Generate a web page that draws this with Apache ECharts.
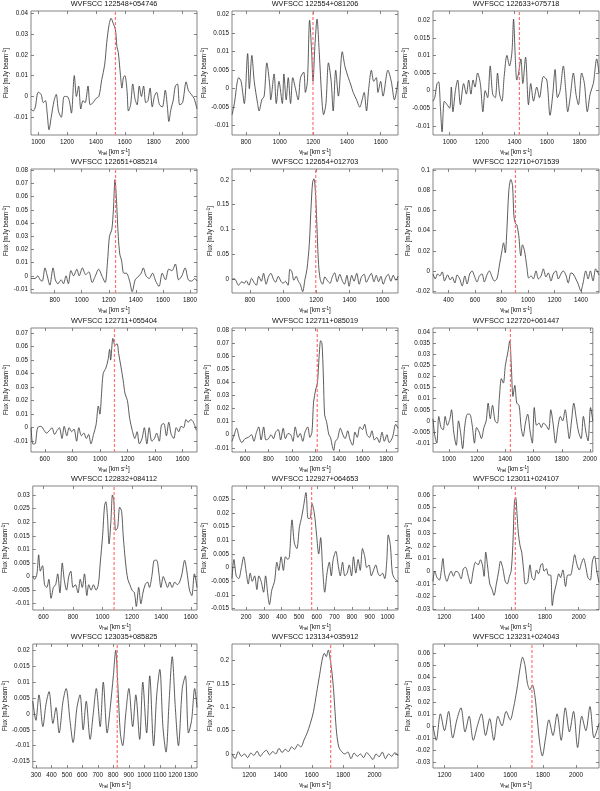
<!DOCTYPE html>
<html>
<head>
<meta charset="utf-8">
<script src="https://cdn.jsdelivr.net/npm/echarts@6/dist/echarts.min.js"></script>
<style>
html, body { margin: 0; padding: 0; background: #fff; }
#main { width: 600px; height: 791px; }
</style>
</head>
<body>
<div id="main"></div>
<script>
// panel titles
const titles = [
  'WVFSCC 122548+054746', 'WVFSCC 122554+081206', 'WVFSCC 122633+075718',
  'WVFSCC 122651+085214', 'WVFSCC 122654+012703', 'WVFSCC 122710+071539',
  'WVFSCC 122711+055404', 'WVFSCC 122711+085019', 'WVFSCC 122720+061447',
  'WVFSCC 122832+084112', 'WVFSCC 122927+064653', 'WVFSCC 123011+024107',
  'WVFSCC 123035+085825', 'WVFSCC 123134+035912', 'WVFSCC 123231+024043'
]

// systemic velocity (red dashed line), km/s
const vsys = [1535, 1198, 1430, 1250, 1197, 905, 1106, 1214, 1436, 1079, 571, 1623, 825, 1720, 1732]

// axis ranges
const xMin = [950, 717, 897, 625, 692, 283, 500, 490, 887, 527, 120, 1133, 280, 1090, 1130]
const xMax = [2100, 1703, 1921, 1852, 1693, 1535, 1705, 1900, 2020, 1642, 1060, 2121, 1340, 2150, 2140]
const yMin = [-0.0185, -0.0125, -0.0126, -0.013, -0.0276, -0.022, -0.018, -0.0132, -0.014, -0.0123, -0.0155, -0.0305, -0.017, -0.03, -0.035]
const yMax = [0.041, 0.021, 0.0226, 0.081, 0.2217, 0.1015, 0.0737, 0.0817, 0.0418, 0.0333, 0.0299, 0.067, 0.022, 0.235, 0.068]

// tick labels
const xTicks = [
  [1000, 1200, 1400, 1600, 1800, 2000],
  [800, 1000, 1200, 1400, 1600],
  [1000, 1200, 1400, 1600, 1800],
  [800, 1000, 1200, 1400, 1600, 1800],
  [800, 1000, 1200, 1400, 1600],
  [400, 600, 800, 1000, 1200, 1400],
  [600, 800, 1000, 1200, 1400, 1600],
  [600, 800, 1000, 1200, 1400, 1600, 1800],
  [1000, 1200, 1400, 1600, 1800, 2000],
  [600, 800, 1000, 1200, 1400, 1600],
  [200, 300, 400, 500, 600, 700, 800, 900, 1000],
  [1200, 1400, 1600, 1800, 2000],
  [300, 400, 500, 600, 700, 800, 900, 1000, 1100, 1200, 1300],
  [1200, 1400, 1600, 1800, 2000],
  [1200, 1400, 1600, 1800, 2000]
]
const yTicks = [
  [-0.01, 0, 0.01, 0.02, 0.03, 0.04],
  [-0.01, -0.005, 0, 0.005, 0.01, 0.015, 0.02],
  [-0.01, -0.005, 0, 0.005, 0.01, 0.015, 0.02],
  [-0.01, 0, 0.01, 0.02, 0.03, 0.04, 0.05, 0.06, 0.07, 0.08],
  [0, 0.05, 0.1, 0.15, 0.2],
  [-0.02, 0, 0.02, 0.04, 0.06, 0.08, 0.1],
  [-0.01, 0, 0.01, 0.02, 0.03, 0.04, 0.05, 0.06, 0.07],
  [-0.01, 0, 0.01, 0.02, 0.03, 0.04, 0.05, 0.06, 0.07, 0.08],
  [-0.01, -0.005, 0, 0.005, 0.01, 0.015, 0.02, 0.025, 0.03, 0.035, 0.04],
  [-0.01, -0.005, 0, 0.005, 0.01, 0.015, 0.02, 0.025, 0.03],
  [-0.015, -0.01, -0.005, 0, 0.005, 0.01, 0.015, 0.02, 0.025],
  [-0.03, -0.02, -0.01, 0, 0.01, 0.02, 0.03, 0.04, 0.05, 0.06],
  [-0.015, -0.01, -0.005, 0, 0.005, 0.01, 0.015, 0.02],
  [0, 0.05, 0.1, 0.15, 0.2],
  [-0.03, -0.02, -0.01, 0, 0.01, 0.02, 0.03, 0.04, 0.05, 0.06]
]

// spectra: [velocity km/s, flux]
const spec1 = [[950,-0.006],[965,-0.007],[980,-0.005],[1000,0.002],[1020,0.001],[1035,-0.003],[1050,-0.002],[1062,-0.008],[1075,-0.016],[1090,-0.01],[1110,-0.002],[1125,0.001],[1140,-0.007],[1160,-0.01],[1180,0.0],[1200,0.0],[1215,-0.002],[1230,-0.008],[1250,0.01],[1265,0.0],[1280,0.005],[1295,-0.006],[1310,-0.002],[1325,-0.003],[1345,0.005],[1360,-0.004],[1380,-0.003],[1400,-0.001],[1420,0.0],[1440,0.008],[1460,0.015],[1475,0.026],[1490,0.034],[1505,0.0375],[1520,0.035],[1535,0.032],[1545,0.024],[1555,0.021],[1570,0.01],[1580,0.004],[1590,0.009],[1600,0.01],[1615,0.003],[1625,-0.007],[1640,-0.004],[1655,0.006],[1670,-0.001],[1685,-0.004],[1700,0.005],[1715,0.0],[1730,0.005],[1745,-0.003],[1760,-0.002],[1775,0.004],[1790,-0.005],[1805,0.0],[1820,0.002],[1840,-0.004],[1860,-0.005],[1880,0.003],[1895,-0.005],[1905,-0.012],[1920,-0.006],[1935,-0.002],[1950,0.005],[1965,0.006],[1980,-0.004],[2000,-0.003],[2025,0.007],[2040,0.003],[2060,0.001],[2080,-0.001],[2100,-0.006]]
const spec2 = [[718,-0.007],[731,-0.004],[757,0.003],[771,0.002],[790,-0.004],[810,0.0095],[820,0.0],[835,0.009],[849,0.002],[869,-0.004],[878,-0.006],[894,-0.003],[908,-0.002],[924,0.007],[941,0.001],[947,-0.003],[967,0.004],[980,-0.004],[996,0.002],[1016,-0.004],[1025,0.004],[1039,-0.003],[1051,0.003],[1065,-0.004],[1078,0.003],[1094,0.0],[1110,-0.003],[1124,0.003],[1143,0.0045],[1153,-0.001],[1165,0.002],[1178,0.0185],[1190,0.01],[1198,0.002],[1210,0.012],[1222,0.0188],[1235,0.01],[1251,-0.003],[1261,-0.007],[1275,-0.004],[1290,0.007],[1306,0.002],[1318,-0.006],[1333,0.005],[1349,-0.002],[1372,0.01],[1388,0.006],[1408,0.003],[1423,0.001],[1437,-0.001],[1457,-0.003],[1476,-0.005],[1490,-0.003],[1502,-0.001],[1516,-0.006],[1529,0.0],[1545,0.005],[1559,0.002],[1574,0.003],[1584,-0.001],[1600,0.002],[1614,-0.002],[1643,0.005],[1663,0.002],[1682,-0.003],[1703,0.002]]
const spec3 = [[897,-0.003],[908,-0.002],[922,0.002],[932,0.0025],[943,-0.005],[953,-0.0117],[967,-0.003],[984,-0.004],[1000,-0.005],[1010,0.001],[1020,-0.006],[1035,0.0],[1049,0.003],[1066,-0.004],[1086,0.002],[1103,-0.001],[1117,0.003],[1131,-0.001],[1144,0.003],[1156,0.001],[1172,0.005],[1189,0.002],[1205,-0.006],[1219,0.0],[1234,-0.002],[1250,0.007],[1265,-0.001],[1281,-0.002],[1295,0.005],[1308,-0.001],[1322,-0.003],[1336,0.004],[1353,0.01],[1369,0.007],[1384,0.011],[1394,0.0203],[1404,0.01],[1414,0.003],[1425,0.005],[1439,0.009],[1451,0.002],[1468,0.0095],[1486,-0.004],[1500,0.002],[1517,-0.003],[1537,0.001],[1554,-0.002],[1578,0.004],[1599,0.003],[1619,-0.007],[1636,-0.001],[1650,0.006],[1665,-0.002],[1681,0.0],[1701,0.007],[1716,0.0],[1728,-0.006],[1743,-0.002],[1763,0.005],[1779,-0.001],[1794,-0.004],[1814,0.005],[1831,0.002],[1849,-0.006],[1866,-0.001],[1886,0.002],[1907,0.009],[1921,0.005]]
const spec4 = [[625,-0.002],[655,-0.002],[675,0.0],[692,-0.003],[708,-0.004],[728,0.006],[745,0.0],[764,-0.007],[788,0.006],[805,-0.003],[824,-0.006],[848,-0.003],[865,-0.006],[884,0.0],[901,-0.006],[920,0.004],[940,0.0],[964,0.005],[981,0.0],[1005,0.006],[1029,0.001],[1053,0.003],[1077,-0.005],[1101,0.0],[1125,0.005],[1149,0.0],[1173,-0.005],[1190,0.01],[1205,0.03],[1222,0.035],[1234,0.05],[1246,0.073],[1258,0.055],[1270,0.03],[1282,0.016],[1294,0.012],[1311,0.002],[1330,0.002],[1354,-0.004],[1373,-0.012],[1395,-0.003],[1414,-0.001],[1439,0.002],[1455,0.006],[1475,0.0],[1499,-0.002],[1523,0.002],[1547,-0.004],[1571,-0.008],[1595,0.002],[1619,-0.003],[1643,0.005],[1667,0.004],[1692,0.009],[1716,-0.003],[1740,0.0],[1764,0.006],[1788,-0.003],[1812,-0.004],[1836,-0.002],[1852,-0.004]]
const spec5 = [[692,0.0],[706,0.001],[715,-0.002],[731,-0.012],[751,-0.005],[766,-0.008],[778,-0.003],[794,-0.012],[810,0.002],[824,-0.006],[839,-0.012],[853,0.006],[869,-0.004],[882,0.012],[898,-0.01],[912,0.005],[926,0.012],[942,0.0],[955,-0.006],[971,0.006],[987,-0.004],[1000,-0.008],[1014,-0.004],[1030,-0.012],[1041,0.02],[1053,0.015],[1065,-0.002],[1079,0.006],[1092,-0.004],[1104,-0.01],[1118,-0.025],[1132,0.0],[1144,0.02],[1158,0.07],[1168,0.14],[1178,0.195],[1186,0.202],[1196,0.17],[1206,0.09],[1214,0.03],[1224,0.0],[1238,-0.01],[1252,0.005],[1268,-0.003],[1283,-0.008],[1297,0.005],[1311,0.013],[1326,-0.005],[1342,0.01],[1356,-0.002],[1370,-0.01],[1385,0.008],[1398,-0.014],[1414,0.008],[1428,-0.004],[1444,0.012],[1459,-0.01],[1473,0.005],[1489,0.01],[1502,-0.006],[1518,0.004],[1532,0.012],[1548,-0.005],[1562,0.008],[1576,-0.005],[1590,0.006],[1604,-0.01],[1620,0.004],[1634,0.01],[1650,-0.004],[1664,0.008],[1680,-0.002],[1693,0.006]]
const spec6 = [[283,-0.003],[300,-0.008],[318,-0.003],[335,-0.005],[353,-0.001],[370,-0.01],[393,-0.004],[413,-0.009],[428,-0.006],[448,-0.012],[465,-0.004],[485,-0.008],[503,-0.015],[523,-0.005],[540,-0.013],[560,-0.003],[578,0.0],[595,-0.005],[615,-0.011],[633,-0.005],[653,-0.003],[670,-0.011],[690,-0.004],[708,0.0],[728,-0.006],[745,-0.01],[765,-0.008],[783,0.005],[803,0.02],[815,0.028],[828,0.018],[840,0.04],[855,0.08],[870,0.091],[883,0.085],[893,0.055],[905,0.047],[915,0.046],[930,0.035],[945,0.015],[958,0.026],[973,0.02],[990,0.005],[1005,-0.007],[1023,-0.005],[1040,-0.008],[1060,0.0],[1078,-0.008],[1098,-0.005],[1115,0.002],[1135,-0.006],[1153,-0.002],[1173,-0.01],[1190,-0.003],[1210,0.0],[1228,-0.008],[1248,-0.003],[1265,0.0],[1285,-0.004],[1303,-0.012],[1323,-0.002],[1340,-0.003],[1360,-0.008],[1378,-0.013],[1398,-0.02],[1415,-0.012],[1435,0.0],[1453,-0.008],[1470,0.0],[1490,-0.01],[1510,0.002],[1535,-0.004]]
const spec7 = [[501,0.0],[513,-0.012],[529,-0.012],[548,0.0],[572,0.001],[595,-0.002],[612,-0.004],[635,-0.002],[652,0.0],[671,-0.005],[690,-0.002],[706,0.0],[725,-0.008],[741,0.001],[760,-0.006],[777,0.0],[795,-0.003],[812,-0.001],[831,-0.01],[847,0.0],[866,-0.006],[883,-0.004],[902,-0.008],[918,-0.005],[935,-0.012],[954,-0.005],[972,0.002],[989,0.016],[1000,0.01],[1012,0.025],[1024,0.04],[1043,0.044],[1059,0.05],[1071,0.058],[1078,0.05],[1094,0.066],[1101,0.063],[1111,0.061],[1125,0.062],[1136,0.055],[1153,0.045],[1169,0.035],[1183,0.025],[1200,0.02],[1216,0.007],[1235,-0.002],[1254,-0.008],[1270,-0.003],[1287,-0.012],[1306,-0.008],[1323,0.0],[1341,-0.012],[1358,0.0],[1377,-0.01],[1396,-0.008],[1412,-0.004],[1431,-0.01],[1447,0.002],[1464,0.003],[1483,-0.006],[1500,0.004],[1518,-0.005],[1537,-0.008],[1554,0.0],[1573,-0.003],[1589,0.001],[1608,0.0],[1625,0.006],[1641,0.004],[1660,0.006],[1679,0.004],[1700,-0.002]]
const spec8 = [[490,-0.005],[509,0.0],[529,0.005],[551,-0.002],[573,-0.006],[601,-0.003],[628,-0.002],[656,0.0],[676,-0.005],[695,0.001],[717,0.006],[737,-0.004],[759,0.006],[778,-0.004],[800,-0.003],[822,0.0],[842,-0.003],[861,0.002],[883,0.004],[903,-0.004],[925,0.005],[944,-0.003],[966,0.001],[989,0.0],[1008,-0.005],[1027,0.006],[1050,-0.002],[1069,0.001],[1091,-0.005],[1110,0.002],[1133,0.006],[1152,-0.002],[1169,0.002],[1183,0.025],[1202,0.035],[1216,0.04],[1230,0.06],[1243,0.072],[1254,0.07],[1266,0.045],[1277,0.015],[1293,0.01],[1313,0.0],[1327,-0.002],[1340,-0.008],[1354,-0.012],[1368,-0.005],[1387,-0.003],[1410,0.005],[1432,0.0],[1451,-0.003],[1473,0.003],[1493,-0.004],[1515,-0.008],[1534,0.002],[1554,-0.002],[1576,0.006],[1598,0.004],[1617,0.008],[1637,0.0],[1659,-0.002],[1678,0.003],[1700,-0.004],[1720,-0.002],[1742,-0.006],[1764,0.002],[1784,-0.005],[1806,0.0],[1825,-0.006],[1853,-0.002],[1881,0.008],[1900,0.005]]
const spec9 = [[887,0.001],[898,-0.006],[914,-0.01],[928,0.002],[944,-0.003],[959,-0.004],[973,0.002],[989,-0.002],[1007,0.001],[1018,0.005],[1034,-0.005],[1052,-0.011],[1068,0.0],[1084,-0.006],[1097,-0.0125],[1113,-0.002],[1131,0.003],[1147,0.003],[1165,-0.002],[1181,-0.01],[1196,-0.003],[1214,-0.005],[1230,-0.008],[1248,-0.003],[1264,0.0],[1278,0.008],[1293,0.001],[1309,0.007],[1327,0.0],[1343,-0.001],[1357,0.01],[1372,0.019],[1386,0.017],[1400,0.025],[1418,0.031],[1431,0.036],[1442,0.025],[1454,0.011],[1467,0.016],[1481,0.008],[1497,0.007],[1512,-0.003],[1526,-0.007],[1542,-0.001],[1558,0.003],[1576,-0.005],[1591,-0.01],[1605,0.006],[1621,-0.002],[1639,-0.001],[1655,-0.003],[1670,-0.001],[1688,-0.002],[1707,-0.004],[1722,0.005],[1738,-0.001],[1756,-0.01],[1772,-0.003],[1790,0.002],[1806,0.0],[1824,0.005],[1840,-0.002],[1853,-0.008],[1869,0.0],[1885,0.008],[1903,0.001],[1919,-0.005],[1937,-0.008],[1953,0.002],[1971,-0.005],[1986,-0.009],[2004,0.006],[2020,0.0]]
const spec10 = [[527,0.0],[540,-0.001],[555,0.001],[567,0.008],[578,0.002],[593,0.004],[607,-0.003],[622,-0.004],[636,-0.001],[651,-0.008],[667,-0.004],[682,-0.003],[696,0.001],[711,-0.006],[727,0.005],[740,-0.001],[756,-0.005],[771,0.0],[785,0.002],[800,-0.004],[816,-0.003],[834,-0.006],[849,-0.001],[863,-0.004],[878,0.001],[894,-0.007],[907,-0.003],[923,-0.005],[939,-0.003],[956,-0.005],[972,-0.003],[985,0.005],[1001,0.015],[1014,0.026],[1023,0.0275],[1034,0.022],[1045,0.012],[1057,0.02],[1068,0.03],[1077,0.028],[1090,0.017],[1103,0.018],[1117,0.0255],[1130,0.024],[1141,0.015],[1157,0.005],[1172,-0.001],[1186,-0.003],[1201,-0.005],[1217,-0.006],[1230,-0.011],[1246,-0.004],[1261,-0.01],[1275,-0.006],[1290,-0.003],[1306,-0.002],[1319,-0.004],[1335,0.0],[1353,0.006],[1368,0.006],[1384,0.001],[1397,-0.004],[1413,0.0],[1428,-0.002],[1442,-0.004],[1457,-0.002],[1473,-0.004],[1491,-0.002],[1508,-0.003],[1524,-0.002],[1540,0.001],[1558,0.006],[1573,0.002],[1591,-0.005],[1607,-0.007],[1624,0.001],[1642,-0.004]]
const spec11 = [[120,-0.004],[131,0.003],[144,-0.003],[158,-0.004],[173,0.0],[186,0.004],[201,-0.002],[212,-0.006],[223,-0.002],[235,-0.005],[248,-0.003],[261,-0.008],[272,-0.003],[285,-0.005],[299,-0.009],[310,-0.003],[323,-0.01],[332,-0.0135],[346,-0.008],[361,-0.005],[374,0.002],[385,-0.001],[398,0.004],[411,-0.001],[423,0.004],[436,0.003],[445,0.004],[460,0.0175],[473,0.009],[487,0.007],[502,0.015],[513,0.018],[524,0.022],[539,0.0275],[551,0.018],[562,0.018],[573,0.0235],[586,0.02],[599,0.012],[611,0.005],[622,0.011],[633,0.0],[645,-0.009],[658,-0.002],[671,0.002],[682,-0.003],[693,0.003],[708,0.006],[721,0.001],[733,-0.003],[746,0.002],[759,-0.003],[772,-0.002],[784,0.001],[797,-0.003],[808,0.004],[821,-0.002],[834,0.003],[846,-0.001],[859,0.007],[872,0.004],[883,0.0],[896,0.001],[909,-0.003],[921,-0.001],[934,0.001],[947,-0.002],[958,-0.003],[972,-0.002],[985,-0.004],[996,0.002],[1005,0.012],[1017,0.008],[1028,-0.002],[1041,-0.004],[1060,-0.005]]
const spec12 = [[1133,-0.008],[1143,0.0],[1157,-0.005],[1171,-0.007],[1182,0.0],[1192,0.01],[1202,-0.002],[1216,-0.008],[1229,-0.003],[1241,0.0],[1255,-0.004],[1269,0.0],[1284,-0.001],[1300,-0.006],[1314,0.002],[1327,0.003],[1343,-0.004],[1357,-0.01],[1373,0.001],[1386,0.007],[1402,0.005],[1416,0.009],[1427,0.005],[1437,-0.004],[1447,0.015],[1457,0.005],[1471,-0.01],[1484,-0.014],[1496,-0.019],[1510,-0.01],[1524,0.0],[1535,0.008],[1549,0.002],[1563,-0.008],[1575,-0.01],[1588,-0.004],[1598,0.0],[1608,0.02],[1618,0.055],[1625,0.058],[1633,0.045],[1641,0.03],[1651,0.02],[1661,0.015],[1673,0.0],[1682,-0.01],[1696,-0.009],[1710,0.005],[1722,-0.005],[1735,-0.007],[1749,0.001],[1761,-0.002],[1775,0.005],[1784,0.006],[1794,0.0],[1808,0.002],[1820,-0.003],[1833,-0.003],[1843,-0.027],[1853,-0.018],[1867,-0.01],[1882,-0.002],[1892,-0.005],[1906,0.001],[1922,-0.012],[1935,-0.003],[1951,-0.003],[1965,0.005],[1976,0.013],[1990,0.005],[2004,0.001],[2016,0.006],[2029,0.01],[2043,0.003],[2055,-0.005],[2069,-0.007],[2082,0.008],[2094,0.012],[2108,0.0],[2121,-0.009]]
const spec13 = [[280,0.004],[300,-0.002],[320,0.006],[345,-0.004],[365,0.003],[385,0.007],[410,-0.003],[430,0.002],[450,-0.006],[475,0.004],[495,0.008],[520,-0.002],[540,-0.009],[565,0.002],[585,0.006],[605,-0.005],[625,0.004],[650,-0.008],[670,0.0],[690,0.008],[715,-0.004],[735,0.01],[760,-0.006],[780,0.002],[800,0.012],[815,0.02],[830,0.008],[845,-0.006],[860,-0.01],[880,0.0],[900,0.008],[925,-0.004],[945,0.006],[970,-0.008],[990,0.01],[1015,-0.006],[1035,0.012],[1060,-0.01],[1080,0.006],[1100,0.014],[1120,-0.004],[1140,-0.012],[1160,0.004],[1180,0.018],[1200,0.002],[1220,-0.01],[1245,0.008],[1265,0.012],[1285,-0.006],[1305,-0.002],[1325,0.008],[1340,0.002]]
const spec14 = [[1090,0.0],[1110,-0.01],[1130,0.005],[1150,-0.005],[1170,0.0],[1190,-0.008],[1210,0.002],[1230,-0.003],[1250,0.006],[1270,-0.005],[1290,0.003],[1310,0.008],[1330,-0.002],[1350,0.005],[1370,0.0],[1390,0.012],[1410,0.003],[1430,0.01],[1450,0.005],[1470,0.015],[1490,0.01],[1510,0.02],[1530,0.015],[1550,0.03],[1570,0.045],[1590,0.065],[1610,0.09],[1630,0.13],[1650,0.17],[1668,0.205],[1680,0.215],[1692,0.208],[1705,0.222],[1718,0.2],[1728,0.175],[1738,0.14],[1748,0.09],[1758,0.045],[1772,0.015],[1790,0.005],[1810,0.0],[1830,0.004],[1850,-0.01],[1870,0.002],[1890,-0.005],[1910,0.0],[1930,-0.008],[1950,0.003],[1970,-0.004],[1990,-0.012],[2010,0.0],[2030,-0.006],[2050,0.004],[2070,-0.01],[2090,0.0],[2110,-0.005],[2130,0.003],[2150,-0.004]]
const spec15 = [[1130,0.0],[1150,-0.012],[1175,0.01],[1200,-0.004],[1225,0.012],[1250,-0.01],[1275,0.005],[1300,0.015],[1325,-0.005],[1350,0.008],[1375,-0.012],[1400,0.0],[1425,0.01],[1450,-0.008],[1475,0.006],[1500,-0.012],[1525,0.008],[1550,0.0],[1575,0.012],[1600,0.005],[1620,0.015],[1640,0.03],[1660,0.048],[1675,0.057],[1690,0.05],[1705,0.035],[1720,0.03],[1735,0.034],[1750,0.025],[1765,0.005],[1780,-0.015],[1795,-0.025],[1815,-0.01],[1835,0.005],[1860,-0.008],[1885,0.01],[1910,-0.012],[1935,0.015],[1960,-0.005],[1985,0.012],[2010,-0.018],[2035,0.008],[2060,-0.004],[2085,0.016],[2110,-0.01],[2140,0.002]]

const spectra = [spec1, spec2, spec3, spec4, spec5, spec6, spec7, spec8, spec9, spec10, spec11, spec12, spec13, spec14, spec15]

const colLeft = [31, 232, 433]
const rowTop = [11, 169, 328, 486, 644]
const plotW = 166
const plotH = 124
const axisColor = '#666'
const redColor = '#ff7272'
const fontFamily = 'Liberation Sans, Arial, sans-serif'

const chart = echarts.init(document.getElementById('main'))

const grids = []
const xAxes = []
const yAxes = []
const mirrorX = []
const mirrorY = []
const titleList = []
const series = []

const tickStyle = (vals) => ({ inside: true, length: 3, customValues: vals, lineStyle: { color: axisColor, width: 0.8 } })

titles.forEach((t, i) => {
  const col = i % 3
  const row = Math.floor(i / 3)
  const maxChars = Math.max(...yTicks[i].map(v => String(v).length))

  grids.push({
    left: colLeft[col],
    top: rowTop[row],
    width: plotW,
    height: plotH,
    show: true,
    borderColor: axisColor,
    borderWidth: 0.8
  })

  titleList.push({
    text: t,
    left: colLeft[col] + plotW / 2,
    top: rowTop[row] - 11,
    textAlign: 'center',
    padding: 0,
    textStyle: { fontSize: 7.3, fontWeight: 'normal', color: '#111', fontFamily: fontFamily }
  })

  xAxes.push({
    gridIndex: i,
    type: 'value',
    position: 'bottom',
    min: xMin[i],
    max: xMax[i],
    name: 'v{sub|hel} [km s{sup|-1}]',
    nameLocation: 'middle',
    nameGap: 13,
    nameTextStyle: {
      fontSize: 6.3,
      color: '#111',
      fontFamily: fontFamily,
      rich: {
        sub: { fontSize: 4.5, verticalAlign: 'bottom', padding: [3, 0, 0, 0], color: '#111' },
        sup: { fontSize: 4.5, verticalAlign: 'top', padding: [0, 0, 3, 0], color: '#111' }
      }
    },
    axisLine: { show: false, onZero: false },
    axisTick: tickStyle(xTicks[i]),
    axisLabel: { customValues: xTicks[i], fontSize: 6.3, color: '#111', margin: 4, fontFamily: fontFamily, formatter: v => String(v) },
    splitLine: { show: false }
  })

  yAxes.push({
    gridIndex: i,
    type: 'value',
    position: 'left',
    min: yMin[i],
    max: yMax[i],
    name: 'Flux [mJy beam{sup|-1}]',
    nameLocation: 'middle',
    nameRotate: 90,
    nameGap: 7 + maxChars * 2.8,
    nameTextStyle: {
      fontSize: 6.3,
      color: '#111',
      fontFamily: fontFamily,
      rich: {
        sup: { fontSize: 4.5, verticalAlign: 'top', padding: [0, 0, 3, 0], color: '#111' }
      }
    },
    axisLine: { show: false, onZero: false },
    axisTick: tickStyle(yTicks[i]),
    axisLabel: { customValues: yTicks[i], fontSize: 6.3, color: '#111', margin: 3, fontFamily: fontFamily, formatter: v => String(v) },
    splitLine: { show: false }
  })

  // tick marks on the top and right edges of the box
  mirrorX.push({
    gridIndex: i, type: 'value', position: 'top', min: xMin[i], max: xMax[i],
    axisLine: { show: false, onZero: false }, axisTick: tickStyle(xTicks[i]),
    axisLabel: { show: false }, splitLine: { show: false }
  })
  mirrorY.push({
    gridIndex: i, type: 'value', position: 'right', min: yMin[i], max: yMax[i],
    axisLine: { show: false, onZero: false }, axisTick: tickStyle(yTicks[i]),
    axisLabel: { show: false }, splitLine: { show: false }
  })

  // spectrum
  series.push({
    type: 'line',
    xAxisIndex: i,
    yAxisIndex: i,
    data: spectra[i],
    showSymbol: false,
    smooth: 0.3,
    silent: true,
    z: 2,
    lineStyle: { color: '#333', width: 0.8 }
  })

  // systemic velocity marker, spanning the full y range
  series.push({
    type: 'line',
    xAxisIndex: i,
    yAxisIndex: i,
    data: [[vsys[i], yMin[i]], [vsys[i], yMax[i]]],
    showSymbol: false,
    silent: true,
    z: 3,
    itemStyle: { color: redColor },
    lineStyle: { color: redColor, type: [3, 2], width: 1.2 }
  })
})

const option = {
  animation: false,
  backgroundColor: '#fff',
  textStyle: { fontFamily: fontFamily },
  title: titleList,
  grid: grids,
  xAxis: xAxes.concat(mirrorX),
  yAxis: yAxes.concat(mirrorY),
  series: series
}
chart.setOption(option, true)
</script>
</body>
</html>
